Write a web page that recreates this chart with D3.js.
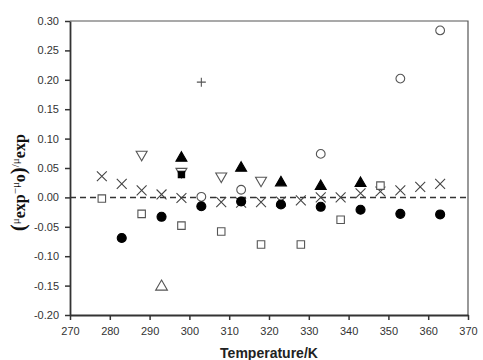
<!DOCTYPE html>
<html>
<head>
<meta charset="utf-8">
<script src="https://cdn.jsdelivr.net/npm/d3@7"></script>
<style>
  body { margin: 0; background: #fff; }
  svg { display: block; }
</style>
</head>
<body>
<svg id="chart" width="483" height="360"></svg>
<script>
"use strict";
// temperatures (K) and relative deviations, one pair of arrays per marker series
var crossT = [278, 283, 288, 293, 298, 308, 313, 318, 323, 328, 333, 338, 343, 348, 353, 358, 363];
var crossV = [0.036, 0.023, 0.012, 0.005, -0.001, -0.008, -0.009, -0.008, -0.007, -0.005, 0.000, 0.000, 0.007, 0.010, 0.012, 0.018, 0.023];
var dotT = [283, 293, 303, 313, 323, 333, 343, 353, 363];
var dotV = [-0.069, -0.033, -0.015, -0.007, -0.012, -0.016, -0.021, -0.028, -0.029];
var openSqT = [278, 288, 298, 308, 318, 328, 338, 348];
var openSqV = [-0.002, -0.028, -0.048, -0.058, -0.080, -0.080, -0.038, 0.020];
var downTriT = [288, 298, 308, 318];
var downTriV = [0.073, 0.044, 0.036, 0.029];
var upTriFilledT = [298, 313, 323, 333, 343];
var upTriFilledV = [0.067, 0.050, 0.025, 0.019, 0.024];
var ringT = [303, 313, 333, 353, 363];
var ringV = [0.001, 0.013, 0.074, 0.202, 0.284];
var plusT = [303];
var plusV = [0.196];
var upTriOpenT = [293];
var upTriOpenV = [-0.152];
var filledSqT = [298];
var filledSqV = [0.039];

var xTicks = [270, 280, 290, 300, 310, 320, 330, 340, 350, 360, 370];
var yTicks = [-0.20, -0.15, -0.10, -0.05, 0.00, 0.05, 0.10, 0.15, 0.20, 0.25, 0.30];

var margin = { left: 70, top: 21, right: 15, bottom: 45 };
var W = 483, H = 360;
var svg = d3.select("#chart");

var x = d3.scaleLinear().domain([270, 370]).range([margin.left, W - margin.right]);
var y = d3.scaleLinear().domain([-0.20, 0.30]).range([H - margin.bottom, margin.top]);

// frame: thin top and right edges
svg.append("path")
    .attr("d", "M" + x(270) + "," + y(0.30) + "H" + x(370) + "V" + y(-0.20))
    .attr("fill", "none").attr("stroke", "#555").attr("stroke-width", 1.2);

var xAxis = svg.append("g")
    .attr("transform", "translate(0," + y(-0.20) + ")")
    .call(d3.axisBottom(x).tickValues(xTicks).tickSize(5).tickSizeOuter(0).tickPadding(7));
var yAxis = svg.append("g")
    .attr("transform", "translate(" + x(270) + ",0)")
    .call(d3.axisLeft(y).tickValues(yTicks).tickSize(5).tickSizeOuter(0).tickPadding(6)
        .tickFormat(d3.format(".2f")));

[xAxis, yAxis].forEach(function (g) {
    g.select(".domain").attr("stroke", "#333").attr("stroke-width", 1.8);
    g.selectAll(".tick line").attr("stroke", "#333").attr("stroke-width", 1.5);
    g.selectAll(".tick text").attr("fill", "#333")
        .style("font-family", "'Liberation Sans', Arial, sans-serif").style("font-size", "11px");
});
yAxis.selectAll(".tick text").text(function (d) { return d3.format(".2f")(d).replace("\u2212", "-"); });

// zero reference line
svg.append("line")
    .attr("x1", x(270)).attr("x2", x(370)).attr("y1", y(0)).attr("y2", y(0))
    .attr("stroke", "#333").attr("stroke-width", 1.5).attr("stroke-dasharray", "6,4");

function pts(ts, vs) {
    return ts.map(function (t, i) { return { t: t, v: vs[i] }; });
}

function drawSymbols(data, type, size, fill, stroke, rotate) {
    svg.append("g").selectAll("path").data(data).enter().append("path")
        .attr("d", d3.symbol().type(type).size(size))
        .attr("transform", function (d) {
            return "translate(" + x(d.t) + "," + y(d.v) + ")" + (rotate ? " rotate(" + rotate + ")" : "");
        })
        .attr("fill", fill).attr("stroke", stroke).attr("stroke-width", 1.1);
}

function drawLines(data, r, angle, stroke, width) {
    svg.append("g").selectAll("path").data(data).enter().append("path")
        .attr("d", "M" + (-r) + ",0H" + r + "M0," + (-r) + "V" + r)
        .attr("transform", function (d) {
            return "translate(" + x(d.t) + "," + y(d.v) + ") rotate(" + angle + ")";
        })
        .attr("fill", "none").attr("stroke", stroke).attr("stroke-width", width);
}

drawLines(pts(crossT, crossV), 7, 45, "#444", 1.1);
drawSymbols(pts(openSqT, openSqV), d3.symbolSquare, 56, "#fff", "#555");
drawSymbols(pts(downTriT, downTriV), d3.symbolTriangle, 52, "#fff", "#555", 180);
drawSymbols(pts(filledSqT, filledSqV), d3.symbolSquare, 40, "#000", "#000");
drawSymbols(pts(upTriFilledT, upTriFilledV), d3.symbolTriangle, 52, "#000", "#000");
drawSymbols(pts(ringT, ringV), d3.symbolCircle, 60, "#fff", "#555");
drawSymbols(pts(dotT, dotV), d3.symbolCircle, 64, "#000", "#000");
drawSymbols(pts(upTriOpenT, upTriOpenV), d3.symbolTriangle, 60, "#fff", "#555");
drawLines(pts(plusT, plusV), 4.5, 0, "#555", 1.1);

// axis titles
svg.append("text")
    .attr("x", (x(270) + x(370)) / 2).attr("y", 358)
    .attr("text-anchor", "middle")
    .style("font-family", "'Liberation Sans', Arial, sans-serif")
    .style("font-size", "14px").style("font-weight", "bold").attr("fill", "#222")
    .text("Temperature/K");

var yl = svg.append("text")
    .attr("transform", "translate(25," + y(0.025) + ") rotate(-90)")
    .attr("text-anchor", "middle")
    .style("font-family", "'Liberation Serif', 'Times New Roman', serif")
    .attr("fill", "#111");
var parts = [
    { s: "(", size: 21, w: "bold", dy: 0 },
    { s: "\u03bc", size: 11, w: "normal", dy: -6 },
    { s: "exp", size: 16, w: "bold", dy: 6 },
    { s: "\u2212\u03bc", size: 11, w: "normal", dy: -6 },
    { s: "o", size: 16, w: "bold", dy: 6 },
    { s: ")", size: 21, w: "bold", dy: 0 },
    { s: "/\u03bc", size: 11, w: "normal", dy: -6 },
    { s: "exp", size: 16, w: "bold", dy: 6 }
];
parts.forEach(function (p) {
    yl.append("tspan").attr("dy", p.dy)
        .style("font-size", p.size + "px").style("font-weight", p.w)
        .text(p.s);
});
</script>
</body>
</html>
